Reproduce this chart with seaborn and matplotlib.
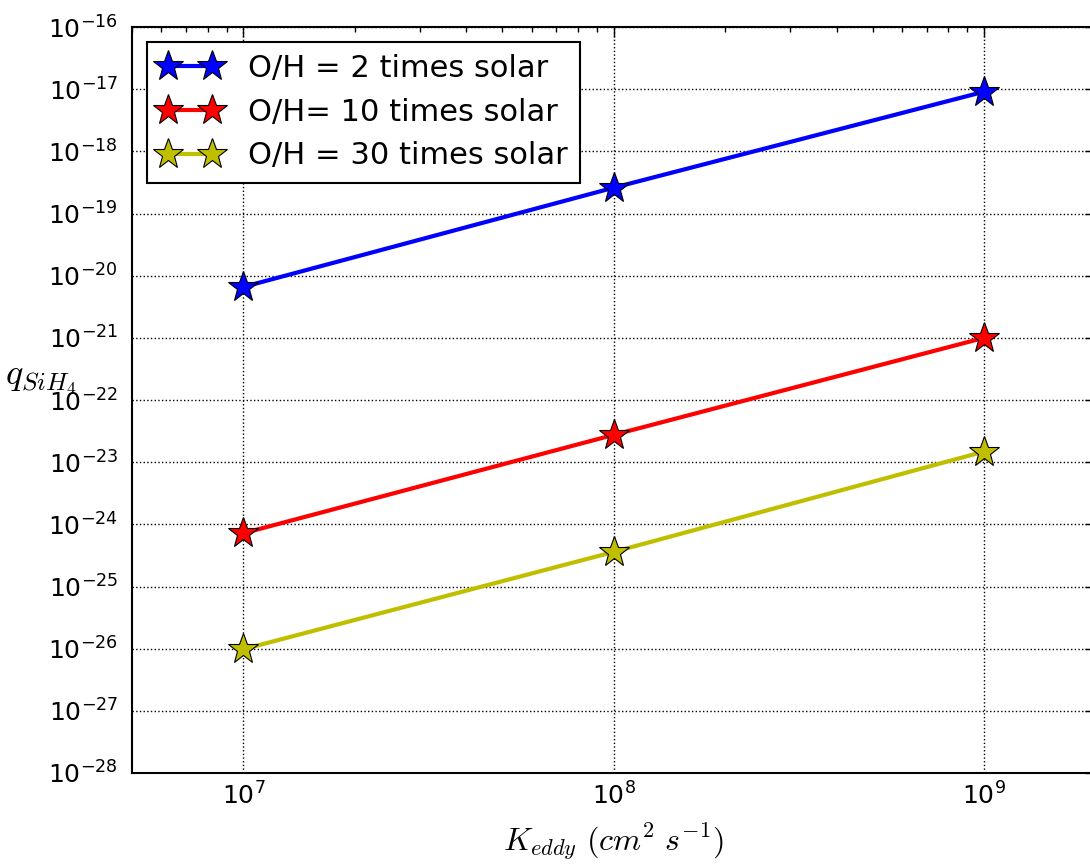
import numpy as np
import pandas as pd
import matplotlib
matplotlib.use("Agg")
import matplotlib.pyplot as plt
import seaborn as sns
from matplotlib.ticker import LogLocator, NullLocator

# Eddy diffusion coefficients (cm^2 s^-1)
k_eddy = [1e7, 1e8, 1e9]

# SiH4 quench mixing ratios for each O/H enrichment
q_2x = [6.6e-21, 2.6e-19, 9.1e-18]
q_10x = [7.2e-25, 2.75e-23, 1.0e-21]
q_30x = [9.8e-27, 3.6e-25, 1.48e-23]

series_labels = ["O/H = 2 times solar", "O/H= 10 times solar", "O/H = 30 times solar"]
series_colors = ["#0000ff", "#ff0000", "#bfbf00"]

df = pd.concat(
    [
        pd.DataFrame({"K": k_eddy, "q": vals, "case": lab})
        for vals, lab in zip([q_2x, q_10x, q_30x], series_labels)
    ],
    ignore_index=True,
)

sns.set_style("white")
plt.rcParams["font.family"] = ["DejaVu Sans"]
plt.rcParams["mathtext.fontset"] = "cm"
plt.rcParams["axes.unicode_minus"] = False
for key in ["text.color", "axes.labelcolor", "xtick.color", "ytick.color", "axes.edgecolor"]:
    plt.rcParams[key] = "black"

fig = plt.figure(figsize=(10.9, 8.68), dpi=100)
ax = fig.add_axes([132 / 1090, 1 - 773 / 868, 963.5 / 1090, 746 / 868])

sns.lineplot(
    data=df, x="K", y="q", hue="case", hue_order=series_labels,
    palette=series_colors, marker="*", markersize=23, markeredgecolor="k",
    markeredgewidth=0.8, linewidth=3, ax=ax, legend=False,
)

ax.set_xscale("log")
ax.set_yscale("log")
ax.set_xlim(5e6, 2e9)
ax.set_ylim(1e-28, 1e-16)

ax.yaxis.set_major_locator(LogLocator(base=10, numticks=20))
ax.yaxis.set_minor_locator(NullLocator())
ax.xaxis.set_minor_locator(LogLocator(base=10, subs=np.arange(2, 10), numticks=20))

ax.grid(True, which="major", color="k", linestyle=":", linewidth=1)
for s in ax.spines.values():
    s.set_color("k")
    s.set_linewidth(1.5)

ax.tick_params(which="both", direction="in", top=True, right=True, colors="k")
ax.tick_params(which="major", length=7, width=1)
ax.tick_params(which="minor", length=3.5, width=1)
ax.tick_params(axis="x", which="major", labelsize=18, pad=7)
ax.tick_params(axis="y", which="major", labelsize=18, pad=10)

ax.set_xlabel(r"$K_{eddy}\ (cm^2\ s^{-1})$", fontsize=23, labelpad=8)
ax.set_ylabel(r"$q_{SiH_4}$", fontsize=26, rotation=0)
ax.yaxis.set_label_coords(-0.095, 0.504)

handles = [
    plt.Line2D([], [], color=c, marker="*", markersize=23, markeredgecolor="k",
               markeredgewidth=0.8, linewidth=3)
    for c in series_colors
]
leg = ax.legend(
    handles, series_labels, loc="upper left", bbox_to_anchor=(0.0156, 0.980),
    borderaxespad=0, numpoints=2, fontsize=22, frameon=True, fancybox=False,
    handlelength=2.04, handletextpad=0.85, labelspacing=0.48, borderpad=0.4,
)
leg.get_frame().set_edgecolor("k")
leg.get_frame().set_linewidth(1.5)
leg.get_frame().set_alpha(1)

fig.savefig("out.png", dpi=100)
